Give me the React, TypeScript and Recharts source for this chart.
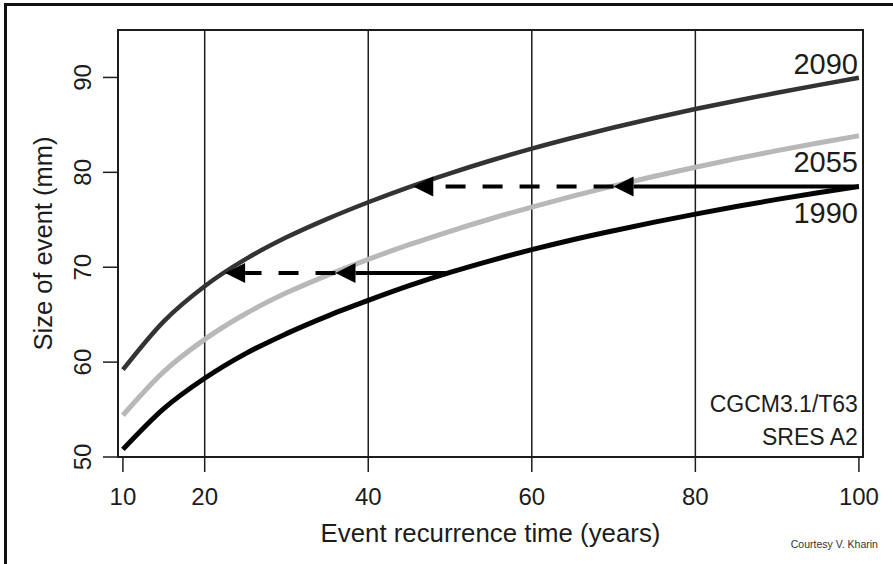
import React from "react";
import {
  LineChart,
  Line,
  XAxis,
  YAxis,
  ReferenceLine,
  ReferenceArea,
  ReferenceDot,
  Label,
} from "recharts";

const FONT = "'Liberation Sans', Arial, Helvetica, sans-serif";
const INK = "#1c1c1c";

// return period (years) and size of event (mm)
const YEARS = [10, 15, 20, 25, 30, 35, 40, 45, 50, 55, 60, 65, 70, 75, 80, 85, 90, 95, 100];
const SIZE_1990 = [
  50.8, 55.1, 58.3, 60.9, 63.0, 64.85, 66.5, 68.05, 69.45, 70.7,
  71.85, 72.9, 73.85, 74.75, 75.6, 76.4, 77.15, 77.85, 78.5,
];
const SIZE_2055 = [
  54.4, 59.0, 62.4, 65.1, 67.3, 69.15, 70.83, 72.37, 73.79, 75.11,
  76.34, 77.49, 78.57, 79.59, 80.54, 81.44, 82.29, 83.09, 83.85,
];
const SIZE_2090 = [
  59.2, 64.3, 68.0, 70.85, 73.15, 75.1, 76.85, 78.45, 79.9, 81.25,
  82.5, 83.65, 84.72, 85.72, 86.67, 87.55, 88.39, 89.19, 89.96,
];

const X_TICKS = [10, 20, 40, 60, 80, 100];
const Y_TICKS = [50, 60, 70, 80, 90];
const GRID_X = [20, 40, 60, 80];

// horizontal arrows: start year, end year (head), level (mm), dashed?
const ARROW_FROM = [100, 70.0, 50, 36.0];
const ARROW_TO = [70.0, 45.5, 36.0, 22.5];
const ARROW_LEVEL = [78.5, 78.5, 69.4, 69.4];
const ARROW_DASHED = [false, true, false, true];

const X_DOMAIN: [number, number] = [9.4, 100.5];
const Y_DOMAIN: [number, number] = [50, 95];

const data = YEARS.map((t, i) => ({
  t,
  y1990: SIZE_1990[i],
  y2055: SIZE_2055[i],
  y2090: SIZE_2090[i],
}));

const last = YEARS.length - 1;

function Arrow(props: any) {
  const { x1, y1, x2, y2, strokeDasharray } = props;
  const dir = Math.sign(x2 - x1) || -1;
  const bx = x2 - dir * 20;
  return (
    <g>
      <line
        x1={x1}
        y1={y1}
        x2={bx}
        y2={y2}
        stroke="#000"
        strokeWidth={4}
        strokeDasharray={strokeDasharray}
      />
      <polygon points={`${x2},${y2} ${bx},${y2 - 10} ${bx},${y2 + 10}`} fill="#000" />
    </g>
  );
}

const XTick = ({ x, y, payload }: any) => (
  <text x={x} y={y} dy={31} textAnchor="middle" fontSize={24} fill={INK} fontFamily={FONT}>
    {payload.value}
  </text>
);

const YTick = ({ x, y, payload }: any) => (
  <text
    x={x - 10}
    y={y}
    transform={`rotate(-90, ${x - 10}, ${y})`}
    textAnchor="middle"
    fontSize={24}
    fill={INK}
    fontFamily={FONT}
  >
    {payload.value}
  </text>
);

const XTitle = ({ viewBox }: any) => (
  <text
    x={viewBox.x + viewBox.width / 2}
    y={542}
    textAnchor="middle"
    fontSize={25.8}
    fill={INK}
    fontFamily={FONT}
  >
    Event recurrence time (years)
  </text>
);

const YTitle = ({ viewBox }: any) => {
  const cy = viewBox.y + viewBox.height / 2;
  return (
    <text
      x={52}
      y={cy}
      transform={`rotate(-90, 52, ${cy})`}
      textAnchor="middle"
      fontSize={25.5}
      fill={INK}
      fontFamily={FONT}
    >
      Size of event (mm)
    </text>
  );
};

const seriesTag = (text: string, dy: number) => (p: any) => (
  <text
    x={p.cx - 1}
    y={p.cy + dy}
    textAnchor="end"
    fontSize={29}
    fill={INK}
    fontFamily={FONT}
  >
    {text}
  </text>
);

const ModelNote = (p: any) => (
  <g fontFamily={FONT} fill={INK}>
    <text x={p.cx - 1} y={p.cy - 45} textAnchor="end" fontSize={23}>
      CGCM3.1/T63
    </text>
    <text x={p.cx - 1} y={p.cy - 12} textAnchor="end" fontSize={23}>
      SRES A2
    </text>
    <text x={p.cx + 19} y={p.cy + 91} textAnchor="end" fontSize={10.5} fill="#333">
      Courtesy V. Kharin
    </text>
  </g>
);

export default function App() {
  return (
    <div
      style={{
        position: "absolute",
        left: 0,
        top: 0,
        width: 893,
        height: 564,
        background: "#fff",
      }}
    >
      <div
        style={{
          position: "absolute",
          left: 4,
          top: 3,
          right: 0,
          bottom: 0,
          borderTop: "3px solid #111",
          borderLeft: "3px solid #111",
        }}
      />
      <div style={{ position: "absolute", left: 0, top: 0 }}>
        <LineChart
          width={893}
          height={564}
          data={data}
          margin={{ top: 30, right: 30, bottom: 0, left: 0 }}
        >
          <XAxis
            type="number"
            dataKey="t"
            domain={X_DOMAIN}
            ticks={X_TICKS}
            interval={0}
            height={107}
            tickSize={15}
            tickLine={{ stroke: INK, strokeWidth: 1.5 }}
            axisLine={false}
            tick={XTick}
          >
            <Label content={XTitle} />
          </XAxis>
          <YAxis
            type="number"
            domain={Y_DOMAIN}
            ticks={Y_TICKS}
            interval={0}
            width={118}
            tickSize={15}
            tickLine={{ stroke: INK, strokeWidth: 1.5 }}
            axisLine={false}
            tick={YTick}
          >
            <Label content={YTitle} />
          </YAxis>

          <ReferenceArea
            x1={X_DOMAIN[0]}
            x2={X_DOMAIN[1]}
            y1={Y_DOMAIN[0]}
            y2={Y_DOMAIN[1]}
            fill="none"
            stroke={INK}
            strokeWidth={2}
          />
          {GRID_X.map((v) => (
            <ReferenceLine key={v} x={v} stroke={INK} strokeWidth={1.5} />
          ))}

          <Line
            type="monotone"
            dataKey="y2055"
            stroke="#b8b8b8"
            strokeWidth={5}
            dot={false}
            isAnimationActive={false}
          />
          <Line
            type="monotone"
            dataKey="y1990"
            stroke="#050505"
            strokeWidth={5}
            dot={false}
            isAnimationActive={false}
          />
          <Line
            type="monotone"
            dataKey="y2090"
            stroke="#333333"
            strokeWidth={4.5}
            dot={false}
            isAnimationActive={false}
          />

          {ARROW_FROM.map((from, i) => (
            <ReferenceLine
              key={`arrow-${i}`}
              segment={[
                { x: from, y: ARROW_LEVEL[i] },
                { x: ARROW_TO[i], y: ARROW_LEVEL[i] },
              ]}
              stroke="#000"
              strokeDasharray={ARROW_DASHED[i] ? "20 17" : undefined}
              shape={Arrow}
            />
          ))}

          <ReferenceDot x={YEARS[last]} y={SIZE_2090[last]} r={0} shape={seriesTag("2090", -4)} />
          <ReferenceDot x={YEARS[last]} y={SIZE_2055[last]} r={0} shape={seriesTag("2055", 36)} />
          <ReferenceDot x={YEARS[last]} y={SIZE_1990[last]} r={0} shape={seriesTag("1990", 36)} />
          <ReferenceDot x={YEARS[last]} y={Y_DOMAIN[0]} r={0} shape={ModelNote} />
        </LineChart>
      </div>
    </div>
  );
}
